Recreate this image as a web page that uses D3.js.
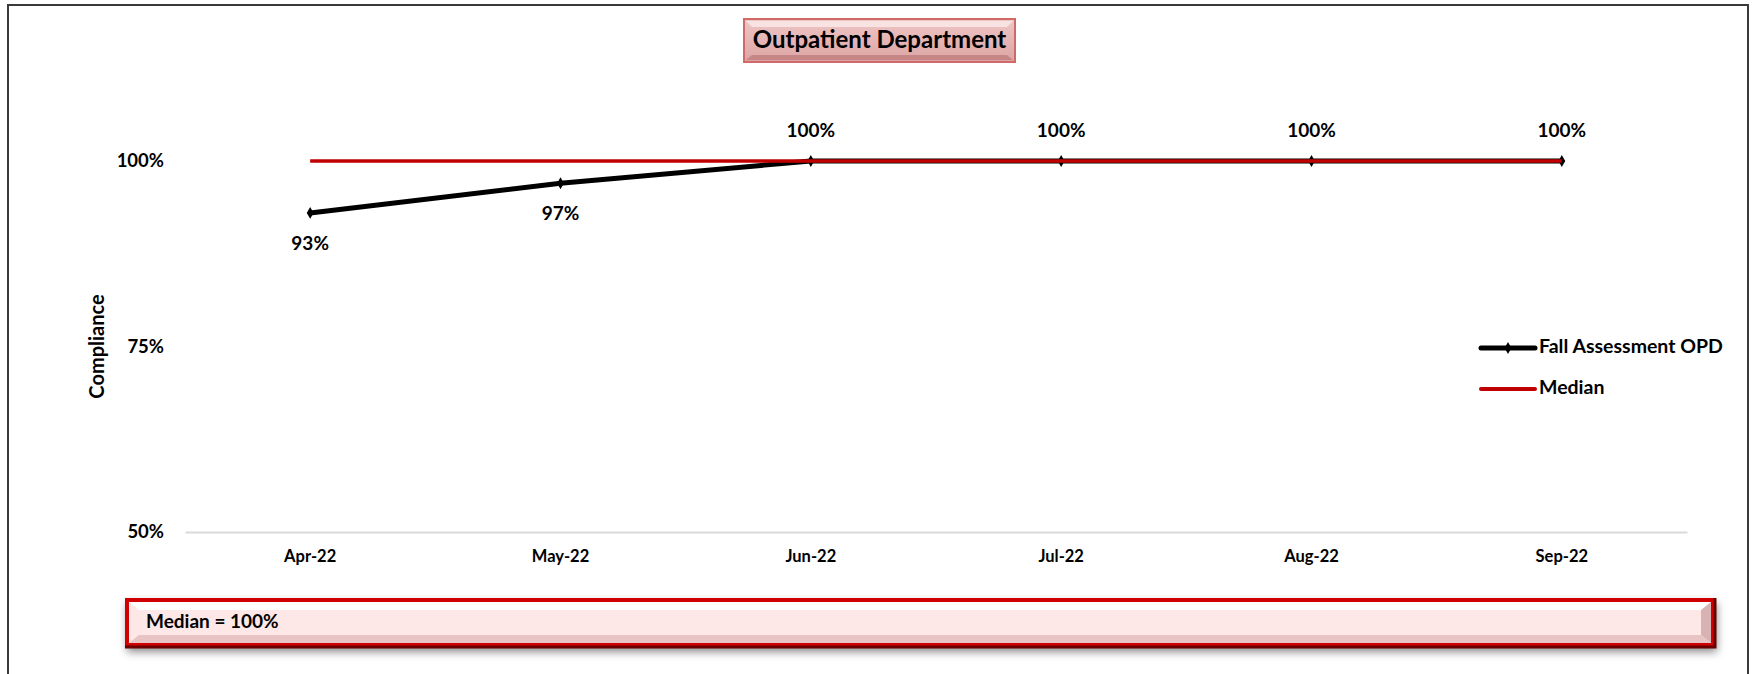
<!DOCTYPE html>
<html>
<head>
<meta charset="utf-8">
<script src="https://cdn.jsdelivr.net/npm/d3@7"></script>
<style>
  body { margin: 0; background: #fff; }
  svg text { font-family: Lato, "Open Sans", sans-serif; font-weight: bold; fill: #000; }
</style>
</head>
<body>
<div id="chart"></div>
<script>
// data
var months = ["Apr-22", "May-22", "Jun-22", "Jul-22", "Aug-22", "Sep-22"];
var compliance = [0.93, 0.97, 1, 1, 1, 1];
var median = [1, 1, 1, 1, 1, 1];
var yTicks = [0.5, 0.75, 1];
var seriesNames = ["Fall Assessment OPD", "Median"];
var titleText = "Outpatient Department";
var noteText = "Median = 100%";

var W = 1754, H = 674;
var plot = {left: 185, right: 1687, top: 161, bottom: 532};

var svg = d3.select("#chart").append("svg")
  .attr("width", W).attr("height", H);

var defs = svg.append("defs");
var g1 = defs.append("linearGradient").attr("id", "titleFill")
  .attr("x1", 0).attr("y1", 0).attr("x2", 0).attr("y2", 1);
g1.append("stop").attr("offset", "0").attr("stop-color", "#efc6c6");
g1.append("stop").attr("offset", "1").attr("stop-color", "#dca4a4");

var sh = defs.append("filter").attr("id", "shadow")
  .attr("x", "-5%").attr("y", "-30%").attr("width", "110%").attr("height", "190%");
sh.append("feDropShadow").attr("dx", 2).attr("dy", 5).attr("stdDeviation", 4)
  .attr("flood-color", "#000").attr("flood-opacity", 0.45);

// outer frame
svg.append("rect")
  .attr("x", 8).attr("y", 5).attr("width", 1740).attr("height", 700)
  .attr("fill", "none").attr("stroke", "#3a3a3a").attr("stroke-width", 2);

// title box
var tb = {x: 744, y: 19, w: 271, h: 43};
svg.append("rect")
  .attr("x", tb.x).attr("y", tb.y).attr("width", tb.w).attr("height", tb.h)
  .attr("fill", "url(#titleFill)").attr("stroke", "#d06a6a").attr("stroke-width", 2);
svg.append("path")
  .attr("d", "M" + (tb.x + 2) + "," + (tb.y + 2) + "H" + (tb.x + tb.w - 2) + "L" + (tb.x + tb.w - 8) + "," + (tb.y + 8) + "H" + (tb.x + 8) + "Z")
  .attr("fill", "#fbeaea").attr("opacity", 0.8);
svg.append("path")
  .attr("d", "M" + (tb.x + 2) + "," + (tb.y + tb.h - 2) + "H" + (tb.x + tb.w - 2) + "L" + (tb.x + tb.w - 8) + "," + (tb.y + tb.h - 7) + "H" + (tb.x + 8) + "Z")
  .attr("fill", "#b57070").attr("opacity", 0.6);
svg.append("text")
  .attr("x", tb.x + tb.w / 2).attr("y", tb.y + tb.h / 2 + 1)
  .attr("text-anchor", "middle").attr("dominant-baseline", "middle")
  .style("font-size", "24px")
  .text(titleText);

// scales
var x = d3.scaleBand().domain(months).range([plot.left, plot.right]);
var y = d3.scaleLinear().domain([0.5, 1]).range([plot.bottom, plot.top]);
var cx = function(d, i) { return x(months[i]) + x.bandwidth() / 2; };

// x axis
var xAxis = svg.append("g")
  .attr("transform", "translate(0," + plot.bottom + ")")
  .call(d3.axisBottom(x).tickSize(0).tickPadding(18));
xAxis.select(".domain").attr("stroke", "#d9d9d9").attr("stroke-width", 2);
xAxis.selectAll("text").style("font-size", "16.5px").style("font-family", null);

// y axis
var yAxis = svg.append("g")
  .attr("transform", "translate(" + (plot.left - 21) + ",0)")
  .call(d3.axisLeft(y).tickValues(yTicks).tickSize(0).tickPadding(0).tickFormat(d3.format(".0%")));
yAxis.select(".domain").remove();
yAxis.selectAll("text").style("font-size", "18.5px").style("font-family", null);

svg.append("text")
  .attr("transform", "translate(104," + ((plot.top + plot.bottom) / 2) + ") rotate(-90)")
  .attr("text-anchor", "middle")
  .style("font-size", "20px")
  .text("Compliance");

// series line
var line = d3.line().x(cx).y(function(d) { return y(d); });
svg.append("path").datum(compliance)
  .attr("d", line).attr("fill", "none")
  .attr("stroke", "#000").attr("stroke-width", 5);

svg.selectAll(".mk").data(compliance).enter().append("path")
  .attr("class", "mk")
  .attr("transform", function(d, i) { return "translate(" + cx(d, i) + "," + y(d) + ")"; })
  .attr("d", d3.symbol().type(d3.symbolDiamond).size(40))
  .attr("fill", "#000");

// median line
svg.append("path").datum(median)
  .attr("d", line).attr("fill", "none")
  .attr("stroke", "#c00000").attr("stroke-width", 3.5);

// data labels
svg.selectAll(".lbl").data(compliance).enter().append("text")
  .attr("class", "lbl")
  .attr("x", cx)
  .attr("y", function(d) { return d < 1 ? y(d) + 32 : y(d) - 29; })
  .attr("text-anchor", "middle").attr("dominant-baseline", "middle")
  .style("font-size", "19px")
  .text(function(d) { return d3.format(".0%")(d); });

// legend
var lg = svg.append("g").attr("transform", "translate(1481,348)");
lg.append("line").attr("x1", 0).attr("x2", 54).attr("y1", 0).attr("y2", 0)
  .attr("stroke", "#000").attr("stroke-width", 5).attr("stroke-linecap", "round");
lg.append("path").attr("transform", "translate(27,0)")
  .attr("d", d3.symbol().type(d3.symbolDiamond).size(40)).attr("fill", "#000");
lg.append("line").attr("x1", 0).attr("x2", 54).attr("y1", 41).attr("y2", 41)
  .attr("stroke", "#c00000").attr("stroke-width", 4).attr("stroke-linecap", "round");
lg.selectAll("text").data(seriesNames).enter().append("text")
  .attr("x", 58).attr("y", function(d, i) { return i * 41; })
  .attr("dominant-baseline", "middle")
  .style("font-size", "19.5px")
  .text(function(d) { return d; });

// median note box
var nb = {x: 125, y: 598, w: 1590, h: 49};
svg.append("rect")
  .attr("x", nb.x).attr("y", nb.y).attr("width", nb.w).attr("height", nb.h)
  .attr("fill", "#fde7e7").attr("filter", "url(#shadow)");
svg.append("path")
  .attr("d", "M" + (nb.x + 4) + "," + (nb.y + 4) + "H" + (nb.x + nb.w - 4) + "L" + (nb.x + nb.w - 14) + "," + (nb.y + 12) + "H" + (nb.x + 14) + "Z")
  .attr("fill", "#ffffff");
svg.append("path")
  .attr("d", "M" + (nb.x + nb.w - 4) + "," + (nb.y + 4) + "V" + (nb.y + nb.h - 4) + "L" + (nb.x + nb.w - 14) + "," + (nb.y + nb.h - 12) + "V" + (nb.y + 12) + "Z")
  .attr("fill", "#d9b3b3");
svg.append("path")
  .attr("d", "M" + (nb.x + 4) + "," + (nb.y + nb.h - 4) + "H" + (nb.x + nb.w - 4) + "L" + (nb.x + nb.w - 14) + "," + (nb.y + nb.h - 12) + "H" + (nb.x + 14) + "Z")
  .attr("fill", "#e8c4c4");
svg.append("rect")
  .attr("x", nb.x + 2).attr("y", nb.y + 2).attr("width", nb.w - 4).attr("height", nb.h - 4)
  .attr("fill", "none").attr("stroke", "#d00000").attr("stroke-width", 4);
svg.append("path")
  .attr("d", "M" + (nb.x + nb.w) + "," + nb.y + "V" + (nb.y + nb.h) + "H" + nb.x)
  .attr("fill", "none").attr("stroke", "#6b0000").attr("stroke-width", 3);
svg.append("text")
  .attr("x", 146).attr("y", nb.y + nb.h / 2 + 1)
  .attr("dominant-baseline", "middle")
  .style("font-size", "19px")
  .text(noteText);
</script>
</body>
</html>
